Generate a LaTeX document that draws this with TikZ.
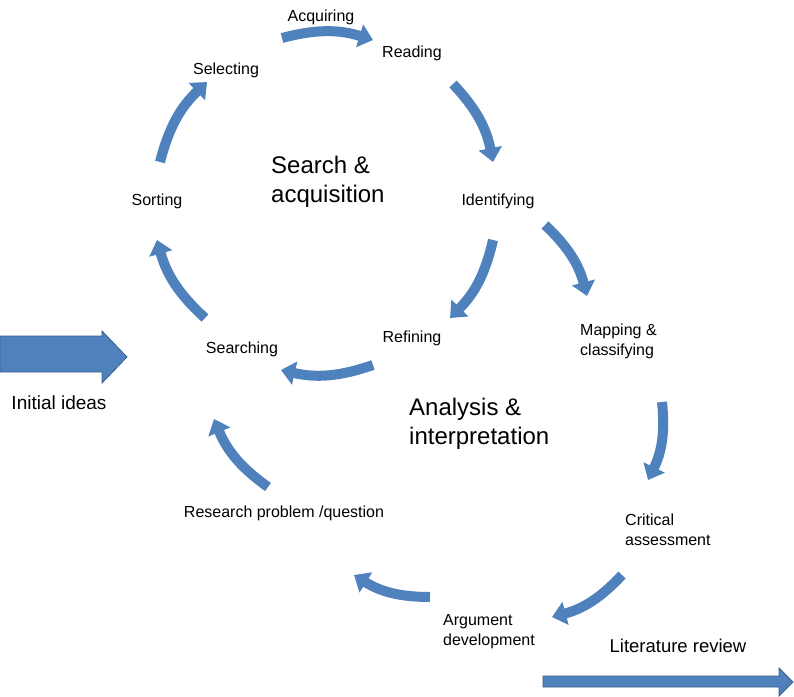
\documentclass[tikz,border=0pt]{standalone}
\usepackage{fontspec}
\setmainfont{Liberation Sans}
\usetikzlibrary{arrows.meta}
\definecolor{ablue}{RGB}{79,129,189}
\definecolor{adark}{RGB}{56,93,138}
\begin{document}
\begin{tikzpicture}[x=1pt,y=-1pt,
  lbl/.style={font=\fontsize{16}{20}\selectfont, inner sep=0pt},
  lblml/.style={lbl, align=left, anchor=west},
  big/.style={font=\fontsize{24}{29}\selectfont, inner sep=0pt, align=left, anchor=west},
  carrow/.style={draw=ablue, line width=10pt, -{Triangle[width=23pt,length=14pt]}, bend left=16},
  block/.style={fill=ablue, draw=adark, line width=0.8pt, line join=miter}]
\useasboundingbox (0,0) rectangle (794,696);

% labels
\node[lbl] (acq) at (321,17) {Acquiring};
\node[lbl] (rea) at (412,53) {Reading};
\node[lbl] (sel) at (226,70) {Selecting};
\node[lbl] (sor) at (157,201) {Sorting};
\node[lbl] (ide) at (498,201) {Identifying};
\node[lbl] (ref) at (412,338) {Refining};
\node[lbl] (sea) at (242,349) {Searching};
\node[lblml] (map) at (580,341) {Mapping \&\\classifying};
\node[lblml] (cri) at (625,530) {Critical\\assessment};
\node[lblml] (arg) at (443,632) {Argument\\development};
\node[lbl] (res) at (284,513) {Research problem /question};
\node[big] (sa) at (271,182) {Search \&\\acquisition};
\node[big] (ai) at (409,424) {Analysis \&\\interpretation};
\node[font=\fontsize{19}{22}\selectfont, inner sep=0pt] (ini) at (59,403) {Initial ideas};
\node[font=\fontsize{18.5}{21}\selectfont, inner sep=0pt] (lit) at (678,646) {Literature review};

% arrow end points
\coordinate (a1s) at (282,38);  \coordinate (a1e) at (373,40);
\coordinate (a2s) at (453,84);  \coordinate (a2e) at (493,162);
\coordinate (a3s) at (493,240); \coordinate (a3e) at (450,318);
\coordinate (a4s) at (373,365); \coordinate (a4e) at (281,370);
\coordinate (a5s) at (205,318); \coordinate (a5e) at (157,240);
\coordinate (a6s) at (160,162); \coordinate (a6e) at (207,82);
\coordinate (a7s) at (545,225); \coordinate (a7e) at (587,296);
\coordinate (a8s) at (662,402); \coordinate (a8e) at (648,480);
\coordinate (a9s) at (622,575); \coordinate (a9e) at (552,617);
\coordinate (a10s) at (430,597); \coordinate (a10e) at (354,575);
\coordinate (a11s) at (268,487); \coordinate (a11e) at (214,419);

\foreach \i in {1,...,11} {
  \draw[carrow] (a\i s) to (a\i e);
}

% straight block arrows
\draw[block] (0,336) -- (102,336) -- (102,331) -- (127,357) -- (102,383) -- (102,372) -- (0,372) -- cycle;
\draw[block] (543,676) -- (779,676) -- (779,668) -- (793,682) -- (779,696) -- (779,687) -- (543,687) -- cycle;
\end{tikzpicture}
\end{document}
